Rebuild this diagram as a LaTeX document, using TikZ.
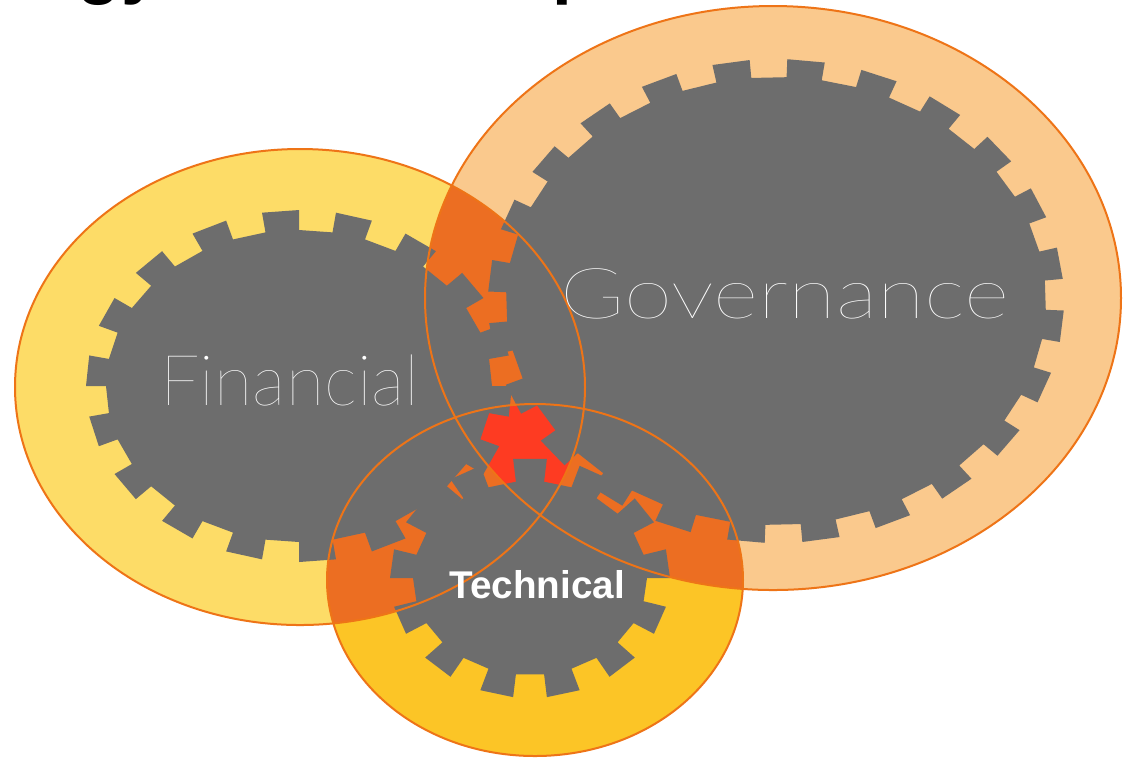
\documentclass[tikz,border=0pt]{standalone}
\usepackage{fontspec}
\newfontfamily\thinsans{Lato Thin}
\newfontfamily\thinwide{Lato Thin}[FakeStretch=1.24]
\newfontfamily\helv{Liberation Sans}

\definecolor{finc}{HTML}{FDDC67}
\definecolor{govc}{HTML}{FAC98D}
\definecolor{techc}{HTML}{FCC526}
\definecolor{lensc}{HTML}{EC6E22}
\definecolor{corec}{HTML}{FE3B22}
\definecolor{gearc}{HTML}{6D6D6D}
\definecolor{rimc}{HTML}{EE7417}

\newcommand{\finshape}{(300,387) ellipse [x radius=285, y radius=238]}
\newcommand{\govshape}{(773,298) ellipse [x radius=348, y radius=292]}
\newcommand{\techshape}{(535,580) ellipse [x radius=208, y radius=176]}

\newcommand{\cog}[7]{%
  \fill[gear] ({#1+(#3-#7)*cos(#6+90/#5)},{#2-(#4-#7)*sin(#6+90/#5)})
    \foreach \k [evaluate=\k as \lo using #6+\k*360/#5-90/#5,
                 evaluate=\k as \hi using #6+\k*360/#5+90/#5] in {1,...,#5}
    {-- ({#1+(#3-#7)*cos(\lo)},{#2-(#4-#7)*sin(\lo)})
     -- ({#1+#3*cos(\lo)},{#2-#4*sin(\lo)})
     -- ({#1+#3*cos(\hi)},{#2-#4*sin(\hi)})
     -- ({#1+(#3-#7)*cos(\hi)},{#2-(#4-#7)*sin(\hi)})} -- cycle;}

\begin{document}
\begin{tikzpicture}[x=0.1mm, y=-0.1mm,
    gear/.style={fill=gearc},
    rim/.style={draw=rimc, line width=0.2mm},
    lens/.style={fill=lensc}]

  \clip (0,0) rectangle (1127,757);
  \fill[white] (0,0) rectangle (1127,757);

  \begin{scope}[every node/.style={inner sep=0pt, font=\helv\bfseries\fontsize{20.2pt}{24pt}\selectfont}]
    \node[anchor=base west] (ttl1) at (77,-10) {gy};
    \node[anchor=base west] (ttl2) at (552,-10) {p};
  \end{scope}

  \fill[finc] \finshape;
  \fill[govc] \govshape;
  \fill[techc] \techshape;

  \begin{scope}
    \clip \finshape;
    \fill[lens] \govshape;
    \fill[lens] \techshape;
  \end{scope}
  \begin{scope}
    \clip \govshape;
    \fill[lens] \techshape;
  \end{scope}
  \begin{scope}
    \clip \finshape;
    \clip \govshape;
    \fill[corec] \techshape;
  \end{scope}

  \cog{299}{386}{213}{176}{18}{95}{20}
  \cog{776}{301}{288}{242}{24}{99}{18}
  \cog{530}{578}{140}{120}{13}{90}{23}

  \draw[rim] \finshape;
  \draw[rim] \govshape;
  \draw[rim] \techshape;

  \begin{scope}[every node/.style={text=white, inner sep=0pt, anchor=base}]
    \node[font=\thinsans\fontsize{20pt}{24pt}\selectfont] (fin) at (290,405) {Financial};
    \node[font=\thinwide\fontsize{20pt}{24pt}\selectfont] (gov) at (785,318) {Governance};
    \node[font=\helv\bfseries\fontsize{11pt}{13pt}\selectfont] (tech) at (537,598) {Technical};
  \end{scope}

\end{tikzpicture}
\end{document}
